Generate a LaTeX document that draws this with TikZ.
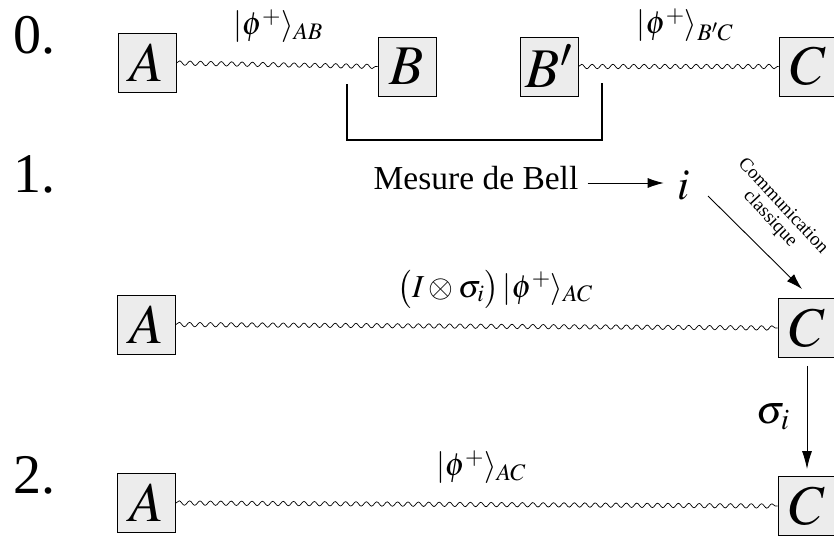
\documentclass[tikz,border=0pt]{standalone}
\usepackage{mathptmx}
\usepackage[no-math]{fontspec}
\setmainfont{Liberation Serif}
\usetikzlibrary{arrows.meta,decorations.pathmorphing}
\definecolor{boxfill}{RGB}{236,236,236}
\tikzset{
  qbox/.style={draw, line width=0.9pt, fill=boxfill, minimum width=58pt, minimum height=59pt, inner sep=0pt, font=\fontsize{56}{60}\selectfont},
  wave/.style={line width=0.7pt, decorate, decoration={snake, amplitude=2.2pt, segment length=10.4pt}},
  num/.style={anchor=base west, inner sep=0pt, font=\rmfamily\fontsize{56}{60}\selectfont},
  lbl/.style={inner sep=0pt, font=\fontsize{32}{36}\selectfont},
  arr/.style={line width=0.9pt, -{Latex[length=16pt,width=10pt]}},
  bracket/.style={line width=1.8pt},
  commtxt/.style={rotate=-47, inner sep=0pt, font=\rmfamily\fontsize{19}{21}\selectfont}
}
\begin{document}
\begin{tikzpicture}[x=1pt,y=-1pt]
\useasboundingbox (0,0) rectangle (834,535);
% step numbers
\node[num] (n0) at (13,53) {0.};
\node[num] (n1) at (13,192) {1.};
\node[num] (n2) at (13,493) {2.};
% row 0
\node[qbox] (A0) at (147,63) {$A$};
\node[qbox] (B0) at (407,66.5) {$B$};
\node[qbox] (Bp0) at (549,66.5) {$B'$};
\node[qbox] (C0) at (808,66.5) {$C$};
\draw[wave] (A0.east) -- (B0.west);
\draw[wave] (Bp0.east) -- (C0.west);
\node[lbl] (l0a) at (278,26) {$|\phi^+\rangle_{AB}$};
\node[lbl] (l0b) at (685,25) {$|\phi^+\rangle_{B'C}$};
\coordinate (bl) at (347,84);
\coordinate (br) at (602,83);
\draw[bracket] (bl) -- (bl |- 0,140) -- (br |- 0,140) -- (br);
% row 1
\node[anchor=base, inner sep=0pt, font=\rmfamily\fontsize{33.5}{36}\selectfont] (mesure) at (476,189) {Mesure de Bell};
\node[anchor=base, inner sep=0pt, font=\fontsize{44}{48}\selectfont] (i) at (684,199) {$i$};
\coordinate (ma) at ([shift={(9,-6)}]mesure.base east);
\coordinate (ie) at ([xshift=-14pt]i.base west);
\draw[arr] (ma) -- (ma -| ie);
\node[commtxt] (comm1) at (784,205) {Communication};
\node[commtxt] (comm2) at (770,219) {classique};
\node[qbox] (A1) at (146.5,324.5) {$A$};
\node[qbox] (C1) at (807,328) {$C$};
\draw[wave] (A1.east) -- (C1.west);
\node[lbl] (l1) at (495,289) {$\bigl(I\otimes\sigma_i\bigr)\,|\phi^+\rangle_{AC}$};
\draw[arr] ([shift={(24,-3)}]i.base) -- ([shift={(-5,-9)}]C1.north);
% row 2
\node[qbox] (A2) at (146.5,503) {$A$};
\node[qbox] (C2) at (807,506) {$C$};
\draw[wave] (A2.east) -- (C2.west);
\node[lbl] (l2) at (481,467) {$|\phi^+\rangle_{AC}$};
\draw[arr, -{Latex[length=18pt,width=10pt]}, shorten <=8pt, shorten >=7pt] (C1.south) -- node[anchor=east, inner sep=0pt, xshift=-17pt, font=\fontsize{40}{44}\selectfont] (sig) {$\sigma_i$} (C2.north);
\end{tikzpicture}
\end{document}
